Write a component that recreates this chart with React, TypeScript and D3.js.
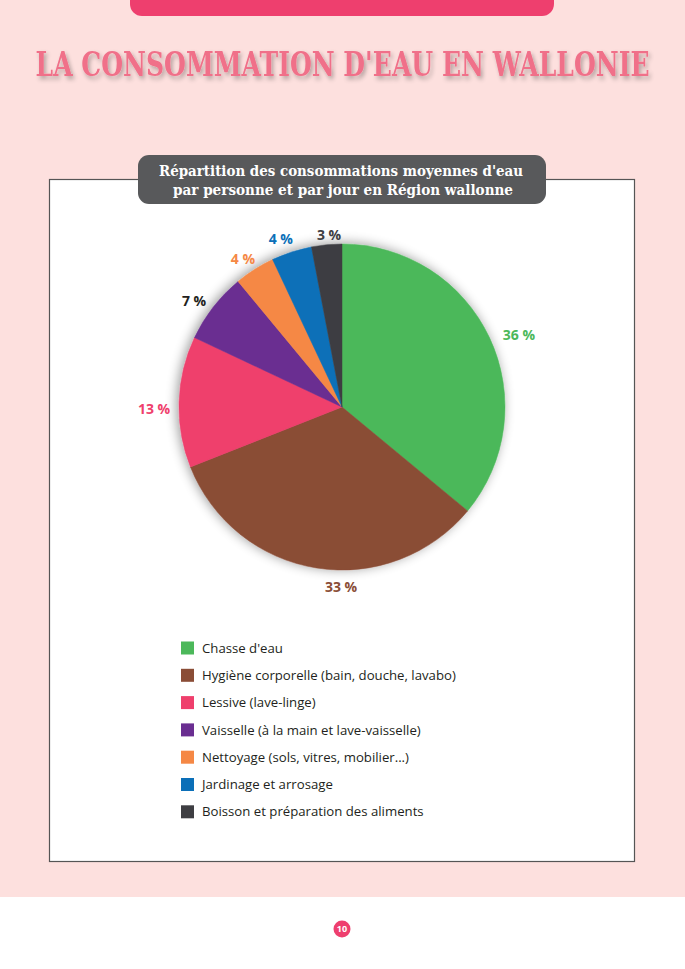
import React from "react";
import * as d3 from "d3";

const categories = [
  "Chasse d'eau",
  "Hygiène corporelle (bain, douche, lavabo)",
  "Lessive (lave-linge)",
  "Vaisselle (à la main et lave-vaisselle)",
  "Nettoyage (sols, vitres, mobilier...)",
  "Jardinage et arrosage",
  "Boisson et préparation des aliments",
];
const values = [36, 33, 13, 7, 4, 4, 3];
const colors = ["#4cb85a", "#8a4d36", "#ef3f6c", "#6a2e91", "#f58845", "#0b6fb8", "#3e3e42"];
const labelColors = ["#4cb85a", "#8a4d36", "#ef3f6c", "#231f20", "#f58845", "#0b6fb8", "#3e3e42"];
// label placement (style): angle in degrees clockwise from 12 o'clock, radius in px
const labelAngles = [67.9, 180.3, 269.4, 305.6, 326.2, 340, 355.7];
const labelRadii = [191, 180, 188, 182, 178, 179, 172.5];

export default function App() {
  const W = 685, H = 969;
  const cx = 342, cy = 407, r = 163;
  const pie = d3.pie<number>().sort(null).value((d) => d)(values);
  const arc = d3.arc<d3.PieArcDatum<number>>().innerRadius(0).outerRadius(r);
  const sans = "'Open Sans', 'DejaVu Sans', sans-serif";
  const sx = 0.75;
  return (
    <svg width={W} height={H} style={{ position: "absolute", left: 0, top: 0 }}>
      <defs>
        <filter id="sh" x="-25%" y="-25%" width="150%" height="150%">
          <feGaussianBlur in="SourceAlpha" stdDeviation="6" />
          <feOffset dx="-2" dy="-1" result="b" />
          <feComponentTransfer><feFuncA type="linear" slope="0.4" /></feComponentTransfer>
          <feMerge><feMergeNode /><feMergeNode in="SourceGraphic" /></feMerge>
        </filter>
        <filter id="tsh" x="-10%" y="-40%" width="120%" height="180%">
          <feGaussianBlur in="SourceAlpha" stdDeviation="2.5" />
          <feOffset dx="2" dy="3" />
          <feComponentTransfer><feFuncA type="linear" slope="0.3" /></feComponentTransfer>
          <feMerge><feMergeNode /><feMergeNode in="SourceGraphic" /></feMerge>
        </filter>
      </defs>
      <rect x={0} y={0} width={W} height={H} fill="#fde0de" />
      <rect x={0} y={897} width={W} height={72} fill="#ffffff" />
      <path d="M130,0 H554 V4 a12,12 0 0 1 -12,12 H142 a12,12 0 0 1 -12,-12 Z" fill="#ee3f6e" />
      <g transform={`translate(342.5,76) scale(${sx},1)`} filter="url(#tsh)">
        <text x={0} y={0} textAnchor="middle" fontFamily="'DejaVu Serif', serif" fontWeight="bold"
          fontSize={34} fill="#f07089" textLength={614 / sx} lengthAdjust="spacingAndGlyphs">
          LA CONSOMMATION D'EAU EN WALLONIE
        </text>
      </g>
      <rect x={49.5} y={179.5} width={585} height={682} fill="#ffffff" stroke="#555" strokeWidth={1.2} />
      <rect x={138} y={155} width={408} height={49} rx={11} fill="#58595b" />
      <text x={341} y={176} textAnchor="middle" fontFamily="'DejaVu Serif', serif" fontWeight="bold" fontSize={15} fill="#fff"
        textLength={364} lengthAdjust="spacingAndGlyphs">
        Répartition des consommations moyennes d'eau
      </text>
      <text x={343} y={195} textAnchor="middle" fontFamily="'DejaVu Serif', serif" fontWeight="bold" fontSize={15} fill="#fff"
        textLength={340} lengthAdjust="spacingAndGlyphs">
        par personne et par jour en Région wallonne
      </text>
      <g transform={`translate(${cx},${cy})`}>
        <g filter="url(#sh)">
          {pie.map((p, i) => (
            <path key={i} d={arc(p) || ""} fill={colors[i]} stroke={colors[i]} strokeWidth={0.5} />
          ))}
        </g>
        {pie.map((p, i) => {
          const a = (labelAngles[i] * Math.PI) / 180;
          const lr = labelRadii[i];
          const x = Math.sin(a) * lr;
          const y = -Math.cos(a) * lr;
          return (
            <text key={i} x={x} y={y} dy="0.36em" textAnchor="middle" fontFamily={sans} fontWeight="bold"
              fontSize={14} fill={labelColors[i]}>
              {p.data} %
            </text>
          );
        })}
      </g>
      {categories.map((c, i) => (
        <g key={i} transform={`translate(181,${648 + i * 27.3})`}>
          <rect x={0} y={-6.5} width={13} height={13} fill={colors[i]} />
          <text x={21} y={0} dy="0.35em" fontFamily={sans} fontSize={13.2} fill="#231f20">{c}</text>
        </g>
      ))}
      <circle cx={342} cy={929} r={8.5} fill="#ee3f6e" />
      <text x={342} y={929} dy="0.35em" textAnchor="middle" fontFamily={sans} fontWeight="bold" fontSize={9} fill="#fff">10</text>
    </svg>
  );
}
